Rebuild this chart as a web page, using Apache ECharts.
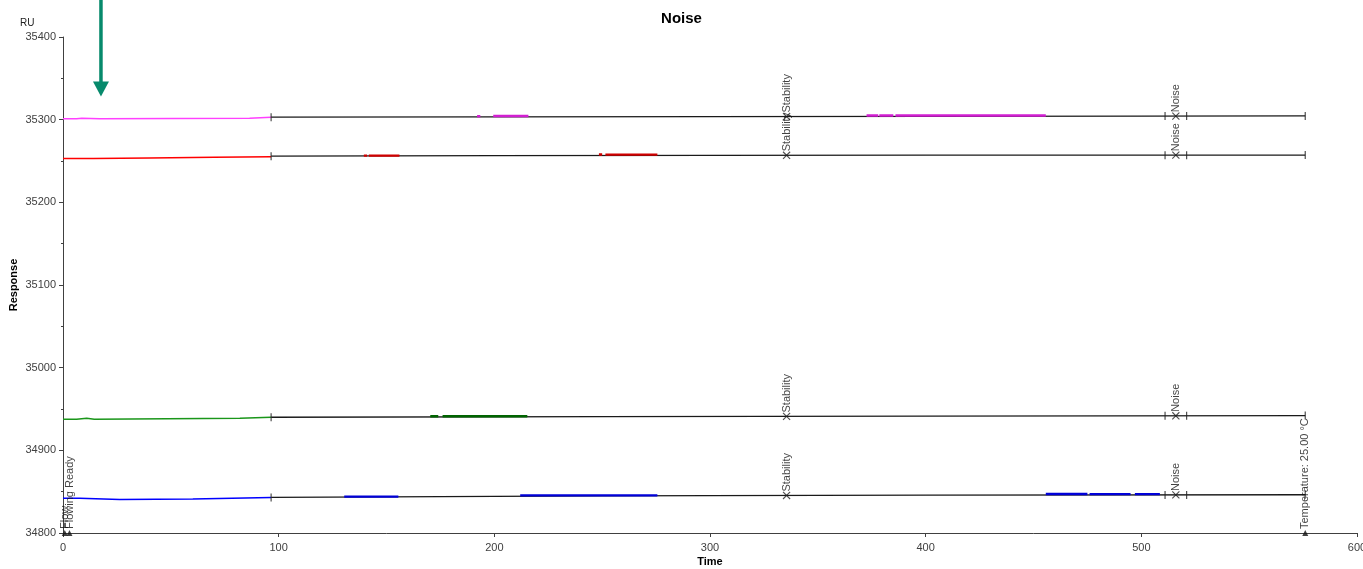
<!DOCTYPE html>
<html>
<head>
<meta charset="utf-8">
<style>
html,body{margin:0;padding:0;background:#fff;}
#chart{width:1363px;height:569px;}
</style>
<script src="https://cdn.jsdelivr.net/npm/echarts@6/dist/echarts.min.js"></script>
</head>
<body>
<div id="chart"></div>
<script>
// ---------------- DATA ----------------
const chartTitle = 'Noise';
const xTicks = [0, 100, 200, 300, 400, 500, 600];
const yTicks = [34800, 34900, 35000, 35100, 35200, 35300, 35400];

// coloured start segment (0 .. 96.5 s)
const magentaMain = [[0,35301.1],[6.3,35301.1],[6.4,35301.8],[8.7,35301.8],[8.8,35301.1],[17,35301.1],[17.5,35301.8],[86.5,35301.8],[86.6,35302.9],[96.5,35302.9]];
const redMain     = [[0,35253.0],[14,35253.0],[14.2,35253.5],[40,35253.6],[40.2,35254.2],[70,35254.4],[70.2,35255.0],[96.5,35255.2]];
const greenMain   = [[0,34937.5],[6.3,34937.5],[6.4,34938.7],[11,34938.7],[11.1,34937.5],[14.5,34937.5],[14.6,34938.7],[82,34938.7],[82.1,34939.9],[96.5,34939.9]];
const blueMain    = [[0,34842.1],[7.7,34842.1],[7.8,34840.5],[26.3,34840.5],[26.4,34841.2],[60.2,34841.2],[60.3,34842.9],[96.5,34842.9]];

// black continuation (96.5 .. 576 s)
const magentaRest = [[96.5,35303.0],[200,35303.4],[300,35303.6],[400,35304.0],[500,35304.3],[576,35304.5]];
const redRest     = [[96.5,35255.8],[200,35256.4],[300,35256.8],[400,35257.0],[576,35257.2]];
const greenRest   = [[96.5,34940.0],[250,34940.7],[400,34941.3],[576,34942.0]];
const blueRest    = [[96.5,34843.0],[150,34843.6],[250,34845.0],[400,34845.8],[576,34846.3]];

// highlighted windows drawn over the black line
const magentaMarks = [[192,35304.2],[193.5,35304.2],null,[199.5,35304.4],[215.8,35304.4],null,[372.6,35305.0],[378,35305.0],null,[378.5,35305.0],[385,35305.0],null,[386,35305.0],[455.7,35305.0]];
const redMarks     = [[139.5,35256.5],[141,35256.5],null,[141.8,35256.5],[156,35256.5],null,[248.5,35257.9],[250,35257.9],null,[251.5,35257.7],[275.6,35257.7]];
const greenMarks   = [[170.3,34941.3],[174,34941.3],null,[176,34941.3],[215.3,34941.3]];
const blueMarks    = [[130.4,34844.0],[155.5,34844.0],null,[212,34845.5],[275.6,34845.5],null,[455.7,34847.2],[475,34847.2],null,[476,34847.0],[495,34847.0],null,[497,34847.0],[508.6,34847.0]];

// events on each curve
const eventTimes  = [96.5, 335.5, 511, 516, 521, 576];
const eventKinds  = ['tick','cross','tick','cross','tick','tick'];
const eventLabels = ['', 'Stability', '', 'Noise', '', ''];
const magentaEventY = [35303.0, 35303.8, 35304.3, 35304.3, 35304.3, 35304.5];
const redEventY     = [35255.8, 35256.9, 35257.1, 35257.1, 35257.1, 35257.2];
const greenEventY   = [34940.0, 34941.0, 34941.8, 34941.8, 34941.8, 34942.0];
const blueEventY    = [34843.0, 34845.4, 34846.1, 34846.1, 34846.1, 34846.3];

// bottom annotations
const bottomEvents = [[0.8, 34800, 'Flow'], [3.0, 34800, 'Flowing Ready'], [576, 34800, 'Temperature: 25.00 °C']];
const arrowAt = [17.6, 35328];

// ---------------- CHART ----------------
const FONT = "'Liberation Sans', Arial, sans-serif";
const chart = echarts.init(document.getElementById('chart'), null, {renderer: 'canvas'});

const curves = [
  {main: magentaMain, rest: magentaRest, marks: magentaMarks, ev: magentaEventY, c1: '#ff40ff', c2: '#d21ed2'},
  {main: redMain,     rest: redRest,     marks: redMarks,     ev: redEventY,     c1: '#ff0000', c2: '#d00000'},
  {main: greenMain,   rest: greenRest,   marks: greenMarks,   ev: greenEventY,   c1: '#1a961a', c2: '#006400'},
  {main: blueMain,    rest: blueRest,    marks: blueMarks,    ev: blueEventY,    c1: '#0000ff', c2: '#0000d8'}
];

const series = [];
const tickPts = [], crossPts = [];
curves.forEach(cv => {
  series.push({type:'line', data: cv.rest, showSymbol:false, lineStyle:{color:'#1a1a1a', width:1.3}, z:2, silent:true});
  series.push({type:'line', data: cv.main, showSymbol:false, lineStyle:{color:cv.c1, width:1.5}, z:3, silent:true});
  series.push({type:'line', data: cv.marks, showSymbol:false, connectNulls:false, lineStyle:{color:cv.c2, width:2.4}, z:4, silent:true});
  eventTimes.forEach((t, i) => {
    if (eventKinds[i] === 'tick') tickPts.push([t, cv.ev[i]]);
    else crossPts.push({value:[t, cv.ev[i]], label:{show:true, formatter: eventLabels[i]}});
  });
});

series.push({type:'scatter', data: tickPts, symbol:'rect', symbolSize:[1.2, 8], itemStyle:{color:'#222'}, z:5, silent:true, clip:false});
series.push({type:'scatter', data: crossPts.map(p => p.value), symbol:'rect', symbolSize:[1.1, 10], symbolRotate:45, itemStyle:{color:'#222'}, z:5, silent:true, clip:false});
series.push({type:'scatter', data: crossPts, symbol:'rect', symbolSize:[1.1, 10], symbolRotate:-45, itemStyle:{color:'#222'}, z:6, silent:true, clip:false,
  label:{position:'top', distance:0, rotate:90, align:'left', verticalAlign:'middle', fontSize:11, fontFamily:FONT, color:'#111'}});
series.push({type:'scatter', data: bottomEvents.map(e => ({value:[e[0], e[1]], label:{show:true, formatter:e[2]}})),
  symbol:'triangle', symbolSize:6, itemStyle:{color:'#111'}, z:6, silent:true, clip:false,
  label:{position:'top', distance:1, rotate:90, align:'left', verticalAlign:'middle', fontSize:11, fontFamily:FONT, color:'#111'}});

chart.setOption({
  animation:false,
  backgroundColor:'#fff',
  textStyle:{fontFamily:FONT},
  title:[
    {text: chartTitle, left:'center', top:6, textStyle:{fontSize:15, fontWeight:'bold', color:'#000', fontFamily:FONT}},
    {text: 'RU', left:15, top:13, textStyle:{fontSize:10, fontWeight:'normal', color:'#222', fontFamily:FONT}}
  ],
  grid:{left:63, right:6, top:37, bottom:36, containLabel:false, outerBoundsMode:'none'},
  xAxis:{type:'value', min:xTicks[0], max:xTicks[xTicks.length-1], interval:100,
    name:'Time', nameLocation:'middle', nameGap:23, nameMoveOverlap:false, nameTextStyle:{fontSize:11, fontWeight:'bold', color:'#000', fontFamily:FONT},
    axisLine:{show:true, lineStyle:{color:'#404040', width:1}},
    axisTick:{show:true, length:4, lineStyle:{color:'#404040'}},
    axisLabel:{fontSize:11, color:'#404040', margin:9, fontFamily:FONT, hideOverlap:false, formatter: v => xTicks.includes(v) ? String(v) : ''},
    splitLine:{show:false}},
  yAxis:{type:'value', min:yTicks[0], max:yTicks[yTicks.length-1], interval:100,
    name:'Response', nameLocation:'middle', nameRotate:90, nameGap:44, nameMoveOverlap:false, nameTextStyle:{fontSize:11, fontWeight:'bold', color:'#000', fontFamily:FONT},
    axisLine:{show:true, lineStyle:{color:'#404040', width:1}},
    axisTick:{show:true, length:4, lineStyle:{color:'#404040'}},
    minorTick:{show:true, splitNumber:2, length:2, lineStyle:{color:'#404040'}},
    axisLabel:{fontSize:11, color:'#404040', margin:7, fontFamily:FONT, formatter: v => String(v)},
    splitLine:{show:false}},
  series: series
});

// annotation arrow placed through the axis scales
const tip = chart.convertToPixel({xAxisIndex:0, yAxisIndex:0}, arrowAt);
const arrowColor = '#078a6c';
chart.setOption({graphic:[
  {type:'line', shape:{x1:tip[0], y1:0, x2:tip[0], y2:tip[1]-12}, style:{stroke:arrowColor, lineWidth:3.5}, z:100, silent:true},
  {type:'polygon', shape:{points:[[tip[0]-8, tip[1]-15], [tip[0]+8, tip[1]-15], [tip[0], tip[1]]]}, style:{fill:arrowColor}, z:100, silent:true}
]});
</script>
</body>
</html>
